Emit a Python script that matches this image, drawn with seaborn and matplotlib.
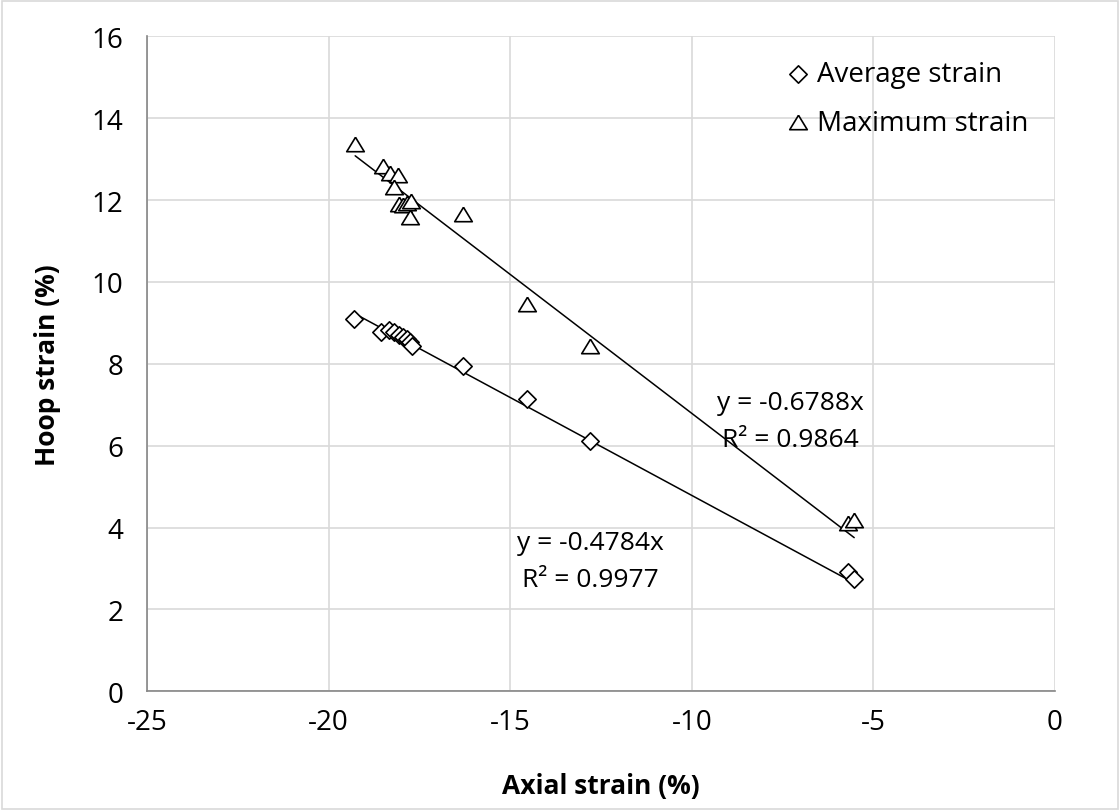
import numpy as np
import pandas as pd
import seaborn as sns
import matplotlib
matplotlib.use("Agg")
import matplotlib.pyplot as plt
from matplotlib.patches import Rectangle

# values
axial_avg = [-19.30, -18.56, -18.35, -18.21, -18.07, -17.94, -17.85, -17.76, -17.71,
             -16.29, -14.54, -12.80, -5.69, -5.53]
hoop_avg = [9.09, 8.77, 8.83, 8.77, 8.70, 8.65, 8.61, 8.54, 8.44,
            7.95, 7.14, 6.12, 2.91, 2.74]

axial_max = [-19.27, -18.49, -18.30, -18.10, -18.21, -18.05, -17.94, -17.85, -17.74,
             -17.77, -16.29, -14.54, -12.80, -5.69, -5.53]
hoop_max = [13.38, 12.82, 12.65, 12.62, 12.33, 11.90, 11.88, 11.93, 11.98,
            11.58, 11.66, 9.46, 8.44, 4.11, 4.19]

slope_avg, r2_avg = -0.4784, 0.9977
slope_max, r2_max = -0.6788, 0.9864

sns.set_theme(style="white")
plt.rcParams["font.family"] = ["Open Sans", "DejaVu Sans"]
plt.rcParams["axes.unicode_minus"] = False
plt.rcParams["text.color"] = "black"
plt.rcParams["axes.labelcolor"] = "black"

fig = plt.figure(figsize=(11.2, 8.12), dpi=100)
ax = fig.add_axes([0.1313, 0.1474, 0.8107, 0.8067])

avg = pd.DataFrame({"x": axial_avg, "y": hoop_avg})
mx = pd.DataFrame({"x": axial_max, "y": hoop_max})

tri = [(0, 0.82), (-1, -0.82), (1, -0.82), (0, 0.82)]

# trend lines through origin
for d, k in [(avg, slope_avg), (mx, slope_max)]:
    xs = np.array([d["x"].min(), d["x"].max()])
    sns.lineplot(x=xs, y=k * xs, ax=ax, color="black", linewidth=1.1, zorder=2)

sns.scatterplot(data=avg, x="x", y="y", ax=ax, marker="D", s=78,
                facecolor="white", edgecolor="black", linewidth=1.2,
                label="Average strain", zorder=3)
sns.scatterplot(data=mx, x="x", y="y", ax=ax, marker=tri, s=160,
                facecolor="white", edgecolor="black", linewidth=1.2,
                label="Maximum strain", zorder=3)

ax.text(-7.3, 6.6, f"y = {slope_max}x\nR² = {r2_max}", ha="center", va="center",
        fontsize=19, linespacing=1.6, color="black")
ax.text(-12.8, 3.18, f"y = {slope_avg}x\nR² = {r2_avg}", ha="center", va="center",
        fontsize=19, linespacing=1.6, color="black")

ax.set_xlim(-25, 0)
ax.set_ylim(0, 16)
ax.set_xticks(range(-25, 1, 5))
ax.set_yticks(range(0, 17, 2))
ax.grid(True, color="#d9d9d9", linewidth=1.2)
ax.set_axisbelow(True)
for s in ["top", "right"]:
    ax.spines[s].set_visible(False)
for s in ["left", "bottom"]:
    ax.spines[s].set_color("#868686")
    ax.spines[s].set_linewidth(1.2)
ax.tick_params(axis="both", which="major", direction="out", length=7, width=1.2,
               color="#868686", labelsize=20, labelcolor="black")
ax.tick_params(axis="x", pad=5)
ax.tick_params(axis="y", pad=10)
ax.set_xlabel("Axial strain (%)", fontsize=19, fontweight="bold", labelpad=26, color="black")
ax.set_ylabel("Hoop strain (%)", fontsize=19, fontweight="bold", labelpad=22, color="black")

leg = ax.legend(loc="upper right", frameon=False, fontsize=20, handletextpad=0.3,
                handlelength=0.8, borderaxespad=0, labelspacing=0.75,
                bbox_to_anchor=(0.983, 0.981), labelcolor="black")

fig.patches.append(Rectangle((0.002, 0.002), 0.996, 0.996, transform=fig.transFigure,
                             fill=False, edgecolor="#d9d9d9", linewidth=1.2))

fig.savefig("out.png", dpi=100)
